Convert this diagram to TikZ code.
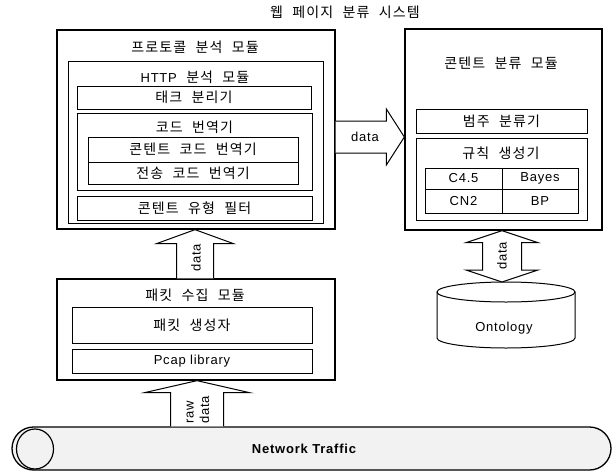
\documentclass[tikz,border=0pt]{standalone}
\usepackage{fontspec}
\setmainfont[LetterSpace=6]{Liberation Sans}
\newfontfamily\kr[LetterSpace=8,WordSpace=2.2]{Noto Sans CJK KR}
\usetikzlibrary{calc,shapes.misc}
\newcommand\bx[6][boxst]{\node[#1, minimum width={(#5-#3)*1pt}, minimum height={(#6-#4)*1pt}] (#2) at ({(#3+#5)/2},{(#4+#6)/2}) {};}
% vertical arrow pointing up: tip, base, shaft half, head half, head depth
\newcommand\vup[5]{\draw[blk] ($(#2)+(-#3,0)$) -- ($(#1)+(-#3,#5)$) -- ($(#1)+(-#4,#5)$) -- (#1) -- ($(#1)+(#4,#5)$) -- ($(#1)+(#3,#5)$) -- ($(#2)+(#3,0)$);}
% horizontal arrow pointing right: tip, tail, shaft half, head half, head depth
\newcommand\hright[5]{\draw[blk] ($(#2)+(0,-#3)$) -- ($(#1)+(-#5,-#3)$) -- ($(#1)+(-#5,-#4)$) -- (#1) -- ($(#1)+(-#5,#4)$) -- ($(#1)+(-#5,#3)$) -- ($(#2)+(0,#3)$);}
% vertical double arrow: top tip, bottom tip, shaft half, head half, head depth
\newcommand\vboth[5]{\draw[blk] (#1) -- ($(#1)+(#4,#5)$) -- ($(#1)+(#3,#5)$) -- ($(#2)+(#3,-#5)$) -- ($(#2)+(#4,-#5)$) -- (#2) -- ($(#2)+(-#4,-#5)$) -- ($(#2)+(-#3,-#5)$) -- ($(#1)+(-#3,#5)$) -- ($(#1)+(-#4,#5)$) -- cycle;}
\tikzset{
  boxst/.style={draw, line width=1pt, inner sep=0pt, fill=white},
  outerst/.style={boxst, line width=1.3pt},
  kt/.style={font=\kr\fontsize{14}{16}\selectfont, inner sep=0pt},
  lt/.style={font=\fontsize{13}{15}\selectfont, inner sep=0pt},
  blk/.style={draw, line width=1pt, fill=white, line join=miter},
}
\begin{document}
\begin{tikzpicture}[x=1pt,y=-1pt]
\useasboundingbox[fill=white] (0,0) rectangle (614,472);
\node[kt] (title) at (345,12) {웹 페이지 분류 시스템};

% protocol analysis module
\bx[outerst]{proto}{57}{30}{335}{229}
\node[kt] (protot) at (195,47) {프로토콜 분석 모듈};
\bx{http}{68}{61}{323}{223}
\node[kt] (httpt) at (195,77) {{\rmfamily\fontsize{13}{15}\selectfont HTTP} 분석 모듈};
\bx{tag}{77}{86}{311}{109}
\node[kt] (tagt) at (tag) {태크 분리기};
\bx{code}{77}{113}{312}{190}
\node[kt] (codet) at (194.5,127) {코드 번역기};
\bx{ccode}{88}{137}{298}{162}
\node[kt] (ccodet) at (ccode) {콘텐트 코드 번역기};
\bx{tcode}{88}{162}{298}{184}
\node[kt] (tcodet) at (tcode) {전송 코드 번역기};
\bx{filt}{77}{196}{312}{220}
\node[kt] (filtt) at (filt) {콘텐트 유형 필터};

% packet collection module
\bx[outerst]{pkt}{57}{279}{335}{380}
\node[kt] (pktt) at (195,295) {패킷 수집 모듈};
\bx{gen}{72}{307}{312}{343}
\node[kt] (gent) at (gen) {패킷 생성자};
\bx{pcap}{72}{349}{312}{373}
\node[lt] (pcapt) at (pcap) {Pcap library};

% content classification module
\bx[outerst]{cls}{405}{29}{602}{230}
\node[kt] (clst) at (501,63) {콘텐트 분류 모듈};
\bx{cat}{416}{109}{587}{133}
\node[kt] (catt) at (cat) {범주 분류기};
\bx{rule}{416}{138}{587}{220}
\node[kt] (rulet) at (501,153) {규칙 생성기};
\bx{c45}{425}{168}{502}{189}
\bx{bayes}{502}{168}{578}{189}
\bx{cn2}{425}{189}{502}{213}
\bx{bp}{502}{189}{578}{213}
\node[lt] (c45t) at (c45) {C4.5};
\node[lt] (bayest) at (bayes) {Bayes};
\node[lt] (cn2t) at (cn2) {CN2};
\node[lt] (bpt) at (bp) {BP};

% ontology database
\draw[line width=1pt, fill=white] (437,292) -- (437,338) arc[start angle=180, end angle=0, x radius=69, y radius=10] -- (575,292) arc[start angle=0, end angle=-180, x radius=69, y radius=10] -- cycle;
\draw[line width=1pt] (437,292) arc[start angle=180, end angle=0, x radius=69, y radius=10];
\coordinate (ontotop) at (506,282);
\node[lt] (onto) at (504,328) {Ontology};

% network traffic tube
\node[draw, line width=1.3pt, fill=gray!10, rounded rectangle, minimum width=599pt, minimum height=43pt, inner sep=0pt] (net) at (311.5,448.5) {};
\draw[line width=1.2pt] (35,449) ellipse [x radius=18.5, y radius=20];
\node[lt, font=\fontsize{13}{15}\selectfont\bfseries] (nett) at (304,449) {Network Traffic};

% arrows
\coordinate (a1t) at (195,0 |- proto.south);
\coordinate (a1b) at (195,0 |- pkt.north);
\vup{a1t}{a1b}{18.5}{38.5}{14}
\node[lt, rotate=90] (a1l) at (196,258) {data};

\coordinate (a2t) at (197,0 |- pkt.south);
\coordinate (a2b) at (197,0 |- net.north);
\vup{a2t}{a2b}{26.5}{52.5}{12}
\node[lt, rotate=90, align=left, font=\fontsize{13}{15.5}\selectfont] (a2l) at (198,410) {raw\\data};

\coordinate (a3t) at (0,137 -| cls.west);
\coordinate (a3b) at (0,137 -| proto.east);
\hright{a3t}{a3b}{16}{28}{18}
\node[lt] (a3l) at (365,137) {data};

\coordinate (a4t) at (502,0 |- cls.south);
\coordinate (a4b) at (502,0 |- ontotop);
\vboth{a4t}{a4b}{19.5}{36}{12}
\node[lt, rotate=90] (a4l) at (502,256) {data};
\end{tikzpicture}
\end{document}
